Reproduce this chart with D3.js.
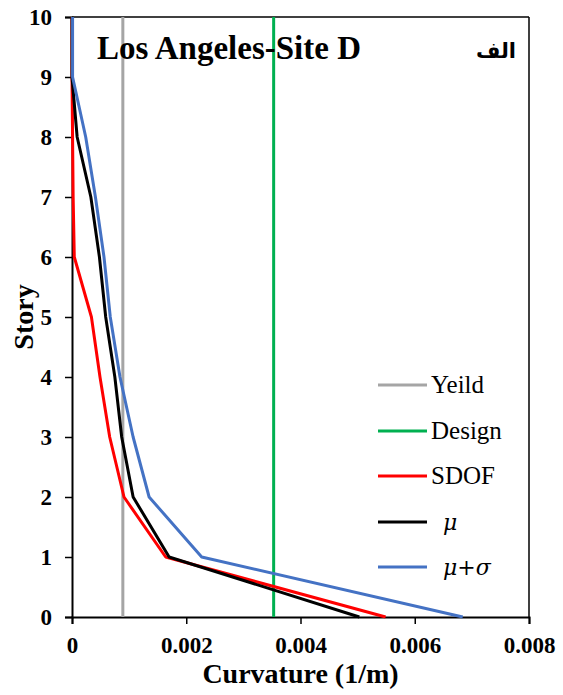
<!DOCTYPE html>
<html>
<head>
<meta charset="utf-8">
<script src="https://cdn.jsdelivr.net/npm/d3@7"></script>
<style>
  html, body { margin: 0; padding: 0; background: #fff; }
  svg { display: block; }
  .serif { font-family: "Times New Roman", "Liberation Serif", "DejaVu Serif", serif; }
</style>
</head>
<body>
<div id="chart"></div>
<script>
// Storey curvature demand profile
const stories = [0, 1, 2, 3, 4, 5, 6, 7, 8, 9, 10];
const sdof = [0.00549, 0.00164, 0.00091, 0.00066, 0.00049, 0.00034, 0.00004, 0.00002, 0.00001, 0, 0];
const mean = [0.00503, 0.00170, 0.00107, 0.00087, 0.00075, 0.00059, 0.00048, 0.00033, 0.00009, 0, 0];
const meanPlusSd = [0.00684, 0.00227, 0.00135, 0.00107, 0.00084, 0.00067, 0.00056, 0.00041, 0.00024, 0.00001, 0.00001];
const yieldCurvature = 0.00089;
const designCurvature = 0.00353;
const xTicks = [0, 0.002, 0.004, 0.006, 0.008];
const yTicks = [0, 1, 2, 3, 4, 5, 6, 7, 8, 9, 10];
const legendLabels = ["Yeild", "Design", "SDOF", "μ", "μ+σ"];

const W = 563, H = 695;
const m = { left: 72, right: 34, top: 17, bottom: 78 };
const colors = { yield: "#A5A5A5", design: "#00B050", sdof: "#FF0000", mean: "#000000", msd: "#4472C4" };

const svg = d3.select("#chart").append("svg").attr("width", W).attr("height", H);

const x = d3.scaleLinear().domain([0, 0.008]).range([m.left, W - m.right]);
const y = d3.scaleLinear().domain([0, 10]).range([H - m.bottom, m.top]);

// frame: top and right edges
svg.append("line").attr("x1", x(0)).attr("x2", x(0.008)).attr("y1", y(10)).attr("y2", y(10))
  .attr("stroke", "#000").attr("stroke-width", 1.5);
svg.append("line").attr("x1", x(0.008)).attr("x2", x(0.008)).attr("y1", y(10)).attr("y2", y(0))
  .attr("stroke", "#000").attr("stroke-width", 1.5);

// axes
const xAxis = svg.append("g").attr("transform", `translate(0,${y(0)})`)
  .call(d3.axisBottom(x).tickValues(xTicks).tickSize(7).tickPadding(13)
    .tickFormat(d => d === 0 ? "0" : d3.format(".3f")(d)));
const yAxis = svg.append("g").attr("transform", `translate(${x(0)},0)`)
  .call(d3.axisLeft(y).tickValues(yTicks).tickSize(7).tickPadding(13).tickFormat(d3.format("d")));
[xAxis, yAxis].forEach(g => {
  g.attr("font-family", null).attr("font-size", null);
  g.select(".domain").attr("stroke", "#000").attr("stroke-width", 2);
  g.selectAll(".tick line").attr("stroke", "#000").attr("stroke-width", 1.5);
  g.selectAll(".tick text").attr("fill", "#000").attr("class", "serif")
    .attr("font-weight", "bold").attr("font-size", 23);
});

// reference curvature lines
svg.append("line").attr("x1", x(yieldCurvature)).attr("x2", x(yieldCurvature))
  .attr("y1", y(0)).attr("y2", y(10)).attr("stroke", colors.yield).attr("stroke-width", 3);
svg.append("line").attr("x1", x(designCurvature)).attr("x2", x(designCurvature))
  .attr("y1", y(0)).attr("y2", y(10)).attr("stroke", colors.design).attr("stroke-width", 3);

// demand profiles
const line = d3.line().x(d => x(d[0])).y(d => y(d[1]));
const series = [
  { values: sdof, color: colors.sdof },
  { values: mean, color: colors.mean },
  { values: meanPlusSd, color: colors.msd }
];
series.forEach(s => {
  svg.append("path").datum(s.values.map((v, i) => [v, stories[i]]))
    .attr("d", line).attr("fill", "none").attr("stroke", s.color)
    .attr("stroke-width", 3).attr("stroke-linejoin", "round");
});

// legend
const legendColors = [colors.yield, colors.design, colors.sdof, colors.mean, colors.msd];
const legendY = [385, 431, 476, 522, 567];
const legend = svg.append("g");
legendLabels.forEach((lab, i) => {
  legend.append("line").attr("x1", 378).attr("x2", 427).attr("y1", legendY[i]).attr("y2", legendY[i])
    .attr("stroke", legendColors[i]).attr("stroke-width", 3);
  const isMath = i >= 3;
  const t = legend.append("text").attr("x", isMath ? 443 : 431).attr("y", legendY[i] + 8)
    .text(lab).attr("fill", "#000");
  if (isMath) {
    t.attr("font-family", "DejaVu Serif, serif").attr("font-style", "italic").attr("font-size", 22);
  } else {
    t.attr("class", "serif").attr("font-size", 25);
  }
});

// chart title and panel mark
svg.append("text").attr("x", 97).attr("y", 59).text("Los Angeles-Site D")
  .attr("class", "serif").attr("font-weight", "bold").attr("font-size", 33);
svg.append("text").attr("x", 516).attr("y", 58).attr("text-anchor", "end").text("الف")
  .attr("font-family", "DejaVu Sans, sans-serif").attr("font-weight", "bold").attr("font-size", 21);

// axis titles
svg.append("text").attr("x", (x(0) + x(0.008)) / 2).attr("y", 683).attr("text-anchor", "middle")
  .text("Curvature (1/m)").attr("class", "serif").attr("font-weight", "bold").attr("font-size", 28);
svg.append("text").attr("transform", `translate(33,${(y(0) + y(10)) / 2}) rotate(-90)`)
  .attr("text-anchor", "middle").text("Story")
  .attr("class", "serif").attr("font-weight", "bold").attr("font-size", 28);
</script>
</body>
</html>
